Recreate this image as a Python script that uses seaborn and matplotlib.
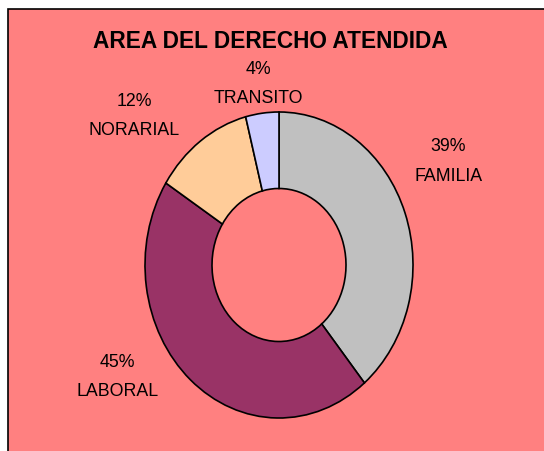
import matplotlib
matplotlib.use('Agg')
import matplotlib.pyplot as plt
from matplotlib.patches import Rectangle
import seaborn as sns

#%% Datos
areas = ['FAMILIA', 'LABORAL', 'NORARIAL', 'TRANSITO']
porcentajes = [39, 45, 12, 4]
colores = ['#C0C0C0', '#993366', '#FFCC99', '#CCCCFF']
titulo = 'AREA DEL DERECHO ATENDIDA'

# posiciones de las etiquetas (coordenadas del eje, estilo Excel)
pos_etiquetas = [(1.265, 0.676), (-1.205, -0.732), (-1.08, 0.974), (-0.153, 1.183)]

#%% Grafico
sns.set_style('white')
plt.rcParams['font.family'] = ['Liberation Sans', 'DejaVu Sans']

fig = plt.figure(figsize=(5.44, 4.51), dpi=100)
fig.patch.set_facecolor('white')
fondo = Rectangle((8 / 544, -0.1), 1.1, (451 - 9) / 451 + 0.1,
                  transform=fig.transFigure, facecolor='#FF8080',
                  edgecolor='black', linewidth=1.2, zorder=-10)
fig.patches.append(fondo)

W, H = 544, 451
ax = fig.add_axes([145 / W, (H - 418) / H, 268 / W, 306 / H])
ax.patch.set_alpha(0)

ax.pie(porcentajes, colors=colores, startangle=90, counterclock=False,
       wedgeprops=dict(width=0.5, edgecolor='black', linewidth=1.2))
ax.set_aspect('auto')
ax.set_xlim(-1, 1)
ax.set_ylim(-1, 1)
ax.axis('off')

for area, pct, (x, y) in zip(areas, porcentajes, pos_etiquetas):
    ax.text(x, y, f'{pct}%\n{area}', ha='center', va='center',
            fontsize=12.8, color='black', linespacing=1.95)

fig.text(270.5 / W, 1 - 41 / H, titulo, ha='center', va='center',
         fontsize=16.3, fontweight='bold', color='black')

fig.savefig('out.png', dpi=100)
